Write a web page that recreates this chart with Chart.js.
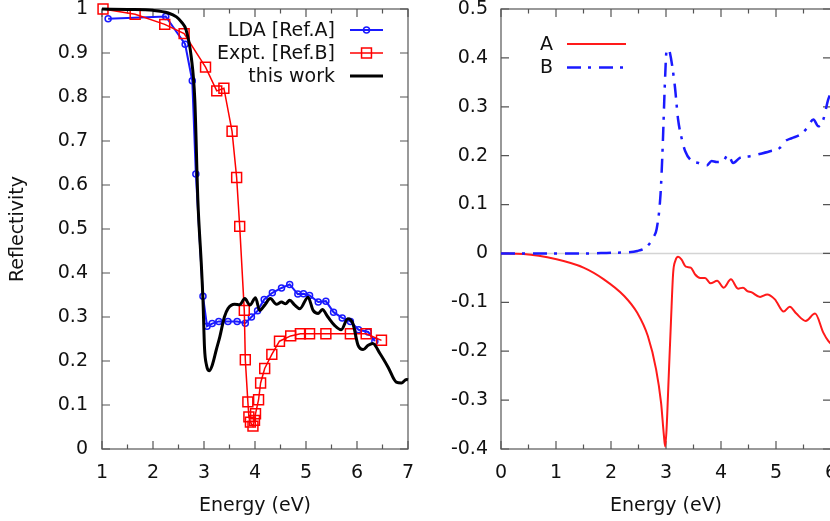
<!DOCTYPE html>
<html lang="en">
<head>
<meta charset="UTF-8" />
<title>Reflectivity</title>
<script src="https://cdn.jsdelivr.net/npm/chart.js"></script>
<style>
  html, body { margin: 0; padding: 0; background: #fff; overflow: hidden; width: 830px; height: 521px; }
  .panel { position: absolute; top: 0; height: 521px; width: 420px; }
  #left { left: 0; }
  #right { left: 420px; }
</style>
</head>
<body>
<div class="panel" id="left"><canvas id="c1" width="420" height="521"></canvas></div>
<div class="panel" id="right"><canvas id="c2" width="420" height="521"></canvas></div>
<script>
// ---- left panel: reflectivity ----
const ldaE = [1.12, 2.25, 2.63, 2.77, 2.84, 2.98, 3.06, 3.16, 3.29, 3.47, 3.65, 3.81, 3.93, 4.05, 4.18, 4.34, 4.52, 4.68, 4.84, 4.95, 5.07, 5.24, 5.39, 5.54, 5.71, 5.87, 6.03, 6.22, 6.35];
const ldaR = [0.978, 0.983, 0.920, 0.837, 0.625, 0.347, 0.279, 0.285, 0.290, 0.290, 0.290, 0.286, 0.300, 0.314, 0.340, 0.355, 0.366, 0.374, 0.352, 0.353, 0.349, 0.334, 0.336, 0.311, 0.298, 0.290, 0.271, 0.266, 0.245];

const exptE = [1.02, 1.65, 2.23, 2.61, 3.03, 3.25, 3.39, 3.55, 3.64, 3.70, 3.79, 3.81, 3.86, 3.88, 3.91, 3.96, 3.99, 4.01, 4.07, 4.11, 4.19, 4.33, 4.48, 4.70, 4.89, 5.07, 5.39, 5.87, 6.18, 6.48];
const exptR = [1.0, 0.988, 0.965, 0.944, 0.868, 0.814, 0.820, 0.722, 0.617, 0.506, 0.315, 0.203, 0.107, 0.073, 0.061, 0.052, 0.065, 0.080, 0.112, 0.150, 0.183, 0.215, 0.245, 0.257, 0.262, 0.262, 0.262, 0.262, 0.262, 0.247];

const workE = [1.0, 1.5, 2.0, 2.3, 2.46, 2.56, 2.65, 2.75, 2.82, 2.88, 2.95, 2.98, 3.01, 3.05, 3.10, 3.16, 3.24, 3.31, 3.40, 3.47, 3.60, 3.70, 3.80, 3.90, 4.01, 4.09, 4.19, 4.30, 4.42, 4.52, 4.60, 4.68, 4.78, 4.88, 5.04, 5.14, 5.24, 5.32, 5.43, 5.56, 5.69, 5.82, 5.92, 6.02, 6.12, 6.22, 6.31, 6.45, 6.61, 6.77, 6.87, 6.97, 7.0];
const workR = [1.0, 0.999, 0.997, 0.991, 0.982, 0.970, 0.952, 0.891, 0.793, 0.565, 0.414, 0.338, 0.23, 0.19, 0.178, 0.19, 0.225, 0.255, 0.30, 0.319, 0.329, 0.328, 0.342, 0.327, 0.344, 0.315, 0.327, 0.342, 0.329, 0.334, 0.330, 0.338, 0.327, 0.319, 0.345, 0.315, 0.308, 0.317, 0.300, 0.281, 0.271, 0.296, 0.285, 0.236, 0.226, 0.236, 0.240, 0.217, 0.186, 0.152, 0.150, 0.158, 0.157];

// ---- right panel: A and B ----
const aE = [0, 0.41, 1.01, 1.50, 1.87, 2.24, 2.48, 2.67, 2.82, 2.91, 2.96, 2.985, 3.01, 3.05, 3.09, 3.13, 3.17, 3.22, 3.28, 3.36, 3.45, 3.53, 3.62, 3.71, 3.81, 3.93, 4.05, 4.18, 4.31, 4.40, 4.48, 4.55, 4.71, 4.84, 4.98, 5.14, 5.25, 5.37, 5.54, 5.71, 5.86, 5.95, 6.05];
const aV = [0, -0.001, -0.012, -0.029, -0.053, -0.087, -0.122, -0.169, -0.237, -0.305, -0.37, -0.395, -0.36, -0.25, -0.14, -0.04, -0.015, -0.007, -0.012, -0.027, -0.029, -0.043, -0.050, -0.050, -0.061, -0.056, -0.070, -0.053, -0.072, -0.070, -0.077, -0.079, -0.089, -0.084, -0.094, -0.119, -0.109, -0.123, -0.138, -0.123, -0.162, -0.179, -0.19];

const bE = [0, 1.5, 1.92, 2.22, 2.48, 2.66, 2.78, 2.83, 2.90, 2.94, 2.98, 3.01, 3.04, 3.07, 3.16, 3.22, 3.29, 3.35, 3.44, 3.59, 3.74, 3.83, 3.92, 4.04, 4.13, 4.22, 4.35, 4.53, 4.65, 4.89, 5.07, 5.16, 5.29, 5.44, 5.56, 5.68, 5.77, 5.86, 5.95, 6.05];
const bV = [0, 0, 0.001, 0.002, 0.005, 0.015, 0.035, 0.05, 0.12, 0.219, 0.349, 0.414, 0.418, 0.411, 0.343, 0.274, 0.233, 0.209, 0.192, 0.185, 0.180, 0.189, 0.187, 0.189, 0.202, 0.185, 0.196, 0.199, 0.202, 0.209, 0.216, 0.229, 0.236, 0.243, 0.256, 0.274, 0.260, 0.274, 0.315, 0.34];

const pts = (xs, ys) => xs.map((x, i) => ({ x: x, y: ys[i] }));
const fmt = v => (+(+v).toFixed(1)) + '';

Chart.defaults.font.family = "'DejaVu Sans', sans-serif";
Chart.defaults.font.size = 19;
Chart.defaults.color = '#111';

// gnuplot-like border with inward ticks on all sides, optional zero line
const framePlugin = {
  id: 'frame',
  beforeDatasetsDraw(chart, args, o) {
    const { ctx, chartArea: a, scales: { x, y } } = chart;
    ctx.save();
    if (o.zeroLine) {
      const py = y.getPixelForValue(0);
      ctx.strokeStyle = '#d4d4d4';
      ctx.lineWidth = 1.5;
      ctx.beginPath(); ctx.moveTo(a.left, py); ctx.lineTo(a.right, py); ctx.stroke();
    }
    ctx.strokeStyle = '#555';
    ctx.lineWidth = 1.2;
    ctx.strokeRect(a.left, a.top, a.right - a.left, a.bottom - a.top);
    ctx.beginPath();
    const nx = Math.round((x.max - x.min) / o.xMinor);
    for (let i = 0; i <= nx; i++) {
      const v = x.min + i * o.xMinor;
      const px = x.getPixelForValue(v);
      const len = (i % Math.round(o.xMajor / o.xMinor) === 0) ? 8 : 4.5;
      ctx.moveTo(px, a.bottom); ctx.lineTo(px, a.bottom - len);
      ctx.moveTo(px, a.top); ctx.lineTo(px, a.top + len);
    }
    const ny = Math.round((y.max - y.min) / o.yStep);
    for (let i = 0; i <= ny; i++) {
      const py = y.getPixelForValue(y.min + i * o.yStep);
      ctx.moveTo(a.left, py); ctx.lineTo(a.left + 8, py);
      ctx.moveTo(a.right, py); ctx.lineTo(a.right - 8, py);
    }
    ctx.stroke();
    ctx.restore();
  }
};

// key: text right-aligned, sample line to its right
const keyPlugin = {
  id: 'key',
  afterDatasetsDraw(chart, args, o) {
    const ctx = chart.ctx;
    ctx.save();
    ctx.font = "19px 'DejaVu Sans', sans-serif";
    ctx.textAlign = 'right';
    ctx.textBaseline = 'middle';
    chart.data.datasets.forEach((ds, i) => {
      const yy = o.rows[i];
      ctx.fillStyle = '#111';
      ctx.fillText(ds.label, o.textRight, yy + 1);
      ctx.strokeStyle = ds.borderColor;
      ctx.lineWidth = ds.borderWidth;
      ctx.setLineDash(ds.borderDash || []);
      ctx.beginPath(); ctx.moveTo(o.lineFrom, yy); ctx.lineTo(o.lineTo, yy); ctx.stroke();
      ctx.setLineDash([]);
      if (ds.pointRadius > 0) {
        const mx = (o.lineFrom + o.lineTo) / 2;
        ctx.lineWidth = ds.pointBorderWidth;
        ctx.beginPath();
        if (ds.pointStyle === 'rect') {
          const s = ds.pointRadius * Math.SQRT1_2;
          ctx.rect(mx - s, yy - s, 2 * s, 2 * s);
        } else {
          ctx.arc(mx, yy, ds.pointRadius, 0, Math.PI * 2);
        }
        ctx.stroke();
      }
    });
    ctx.restore();
  }
};

const xFit = s => { s.height = 72; s.paddingLeft = 0; s.paddingRight = 0; };

new Chart(document.getElementById('c1'), {
  type: 'scatter',
  data: {
    datasets: [
      { label: 'LDA [Ref.A]', data: pts(ldaE, ldaR), showLine: true, borderColor: '#1a1aff', borderWidth: 2,
        pointStyle: 'circle', pointRadius: 3, pointBorderWidth: 1.5, pointBackgroundColor: 'rgba(0,0,0,0)',
        pointBorderColor: '#1a1aff', tension: 0, clip: false, order: 3 },
      { label: 'Expt. [Ref.B]', data: pts(exptE, exptR), showLine: true, borderColor: '#ff0000', borderWidth: 1.5,
        pointStyle: 'rect', pointRadius: 7, pointBorderWidth: 1.5, pointBackgroundColor: 'rgba(0,0,0,0)',
        pointBorderColor: '#ff0000', tension: 0, clip: false, order: 2 },
      { label: 'this work', data: pts(workE, workR), showLine: true, borderColor: '#000', borderWidth: 3,
        pointRadius: 0, cubicInterpolationMode: 'monotone', clip: 4, order: 1 }
    ]
  },
  options: {
    responsive: false, animation: false, events: [],
    layout: { padding: { left: 0, right: 12, top: 9, bottom: 0 } },
    plugins: {
      legend: { display: false }, tooltip: { enabled: false },
      frame: { xMinor: 0.5, xMajor: 1, yStep: 0.1 },
      key: { textRight: 335, lineFrom: 350, lineTo: 383, rows: [30, 53, 76] }
    },
    scales: {
      x: {
        type: 'linear', min: 1, max: 7,
        grid: { display: false, drawTicks: false }, border: { display: false },
        ticks: { stepSize: 1, padding: 13, callback: fmt },
        title: { display: true, text: 'Energy (eV)', padding: { top: 0, bottom: 4 } },
        afterFit: xFit
      },
      y: {
        min: 0, max: 1,
        grid: { display: false, drawTicks: false }, border: { display: false },
        ticks: { stepSize: 0.1, padding: 14, callback: fmt },
        title: { display: true, text: 'Reflectivity', padding: { top: 7, bottom: 0 } },
        afterFit: s => { s.width = 102; s.paddingTop = 0; s.paddingBottom = 0; }
      }
    }
  },
  plugins: [framePlugin, keyPlugin]
});

new Chart(document.getElementById('c2'), {
  type: 'scatter',
  data: {
    datasets: [
      { label: 'A', data: pts(aE, aV), showLine: true, borderColor: '#ff1a1a', borderWidth: 2,
        pointRadius: 0, cubicInterpolationMode: 'monotone', order: 2 },
      { label: 'B', data: pts(bE, bV), showLine: true, borderColor: '#1a1aff', borderWidth: 2.5,
        borderDash: [14, 7, 3, 8], pointRadius: 0, cubicInterpolationMode: 'monotone', order: 1 }
    ]
  },
  options: {
    responsive: false, animation: false, events: [],
    layout: { padding: { left: 0, right: 9, top: 9, bottom: 0 } },
    plugins: {
      legend: { display: false }, tooltip: { enabled: false },
      frame: { xMinor: 0.5, xMajor: 1, yStep: 0.1, zeroLine: true },
      key: { textRight: 133, lineFrom: 147, lineTo: 206, rows: [44, 67.5] }
    },
    scales: {
      x: {
        type: 'linear', min: 0, max: 6,
        grid: { display: false, drawTicks: false }, border: { display: false },
        ticks: { stepSize: 1, padding: 13, callback: fmt },
        title: { display: true, text: 'Energy (eV)', padding: { top: 0, bottom: 4 } },
        afterFit: xFit
      },
      y: {
        min: -0.4, max: 0.5,
        grid: { display: false, drawTicks: false }, border: { display: false },
        ticks: { stepSize: 0.1, padding: 13, callback: fmt },
        afterFit: s => { s.width = 81; s.paddingTop = 0; s.paddingBottom = 0; }
      }
    }
  },
  plugins: [framePlugin, keyPlugin]
});
</script>
</body>
</html>
